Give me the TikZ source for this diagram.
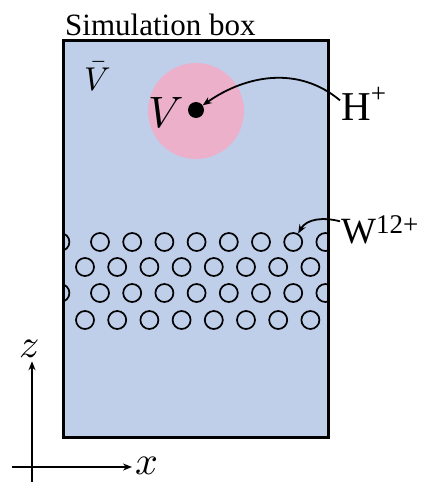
\documentclass[tikz,border=0pt]{standalone}
\usepackage{fontspec}
\usepackage{unicode-math}
\setmainfont{Liberation Serif}
\setmathfont{Latin Modern Math}
\usepackage{tikz}
\usetikzlibrary{arrows.meta}
\definecolor{boxblue}{HTML}{BFCFEA}
\definecolor{spherepink}{HTML}{ECB0CB}

\begin{document}
\begin{tikzpicture}[x=1pt,y=-1pt,>={Stealth[length=9pt,width=7pt]},
  ion/.style={circle,draw,line width=1.7pt,minimum size=18pt,inner sep=0pt}]
  \useasboundingbox (0,0) rectangle (430,482);
  % simulation box
  \node[draw,fill=boxblue,line width=3pt,minimum width=265pt,minimum height=397pt,inner sep=0pt] (simbox) at (195.5,238.5) {};
  \node[anchor=base west,inner sep=0pt,font=\fontsize{31}{31}\selectfont] (title) at (65,35) {Simulation box};
  \node[anchor=base,inner sep=0pt,font=\fontsize{33}{33}\selectfont] (vbar) at (98,90) {$\bar{V}$};
  % test volume around the ion
  \fill[spherepink] (196,111) circle (48);
  \node[circle,fill,inner sep=0pt,minimum size=16pt] (hion) at (196,110) {};
  \node[anchor=base,inner sep=0pt,font=\fontsize{44}{44}\selectfont] (vlab) at (166,127) {$V$};
  \node[anchor=base west,inner sep=1pt,font=\fontsize{41}{41}\selectfont] (hplus) at (340,120)
    {H\raisebox{18pt}{\fontsize{27}{27}\selectfont+}};
  \draw[->,line width=1.8pt] ([yshift=3pt]hplus.west) to[out=140,in=35] (hion);
  % tungsten lattice (periodic in x)
  \begin{scope}
    \clip (63,40) rectangle (328,437);
    \foreach \r/\y in {1/242,3/293} {
      \foreach \k in {0,...,7}
        \node[ion] (w-\r-\k) at (100+32.2*\k,\y) {};
      \node[ion] (w-\r-p) at (100+32.2*7-265,\y) {};
    }
    \foreach \r/\y in {2/267,4/320}
      \foreach \k in {0,...,7}
        \node[ion] (w-\r-\k) at (85+32.2*\k,\y) {};
  \end{scope}
  \node[anchor=base west,inner sep=1pt,font=\fontsize{37}{37}\selectfont] (wion) at (340,243)
    {W\raisebox{10pt}{\fontsize{27}{27}\selectfont 12+}};
  \draw[->,line width=1.8pt] ([yshift=8pt]wion.west) to[out=165,in=60] (w-1-6);
  % axes
  \node[inner sep=3pt,font=\fontsize{40}{40}\selectfont] (zlab) at (29,349) {$z$};
  \node[inner sep=3pt,anchor=west,font=\fontsize{40}{40}\selectfont] (xlab) at (132,466) {$x$};
  \coordinate (zfoot) at (32,482);
  \coordinate (xfoot) at (12,467);
  \draw[->,line width=2pt] (zfoot) -- (zfoot |- zlab.south);
  \draw[->,line width=2pt] (xfoot) -- (xfoot -| xlab.west);
\end{tikzpicture}
\end{document}
